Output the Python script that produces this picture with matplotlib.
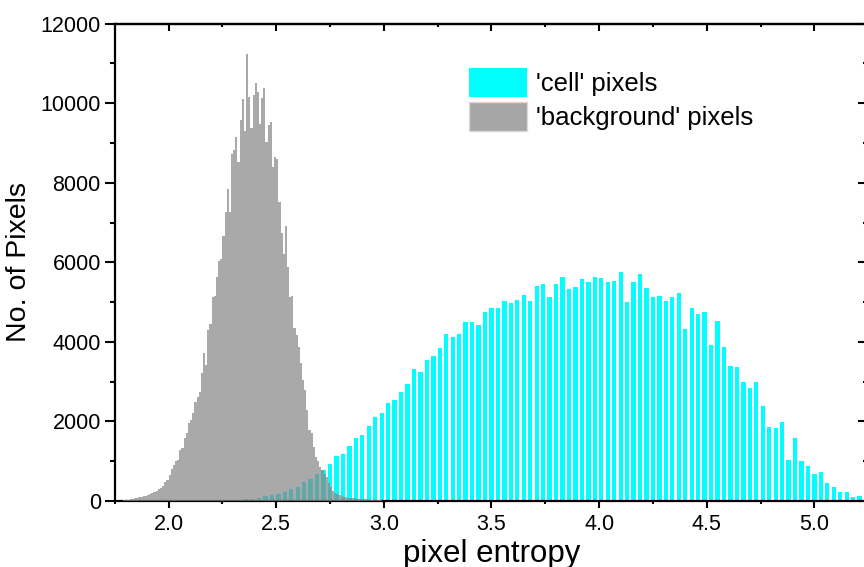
import numpy as np
import matplotlib
matplotlib.use("Agg")
import matplotlib.pyplot as plt
from matplotlib.patches import Patch
from matplotlib.ticker import MultipleLocator

plt.rcParams['font.family'] = ['Liberation Sans', 'DejaVu Sans']

# histogram counts
cell_counts = [
    5, 8, 12, 18, 28, 43, 59, 84, 126, 151,
    168, 218, 302, 360, 485, 545, 675, 779, 940, 1120,
    1180, 1383, 1592, 1659, 1877, 2104, 2220, 2456, 2531, 2732,
    2941, 3311, 3235, 3552, 3645, 3846, 4206, 4115, 4191, 4500,
    4500, 4432, 4744, 4844, 4844, 5028, 4978, 5045, 5179, 5028,
    5405, 5455, 5129, 5455, 5623, 5330, 5372, 5589, 5506, 5640,
    5598, 5497, 5522, 5749, 5003, 5497, 5715, 5346, 5129, 5145,
    5020, 5129, 5237, 4324, 4844, 4693, 4744, 3914, 4517, 3864,
    3394, 3369, 2992, 2833, 2984, 2388, 1860, 1827, 1978, 1023,
    1592, 998, 872, 679, 729, 444, 352, 235, 218, 100,
    134, 80,
]

background_counts = [
    10, 15, 25, 35, 45, 55, 70, 85, 95, 108,
    120, 134, 150, 165, 193, 230, 260, 300, 330, 370,
    486, 528, 654, 813, 897, 1014, 1031, 1282, 1332, 1576,
    1702, 1953, 2036, 2204, 2497, 2622, 2748, 3225, 3713, 3419,
    4299, 4450, 5136, 5161, 5639, 6034, 6084, 6662, 7265, 7840,
    7260, 8724, 8820, 9140, 8515, 9565, 10099, 9302, 11237, 10157,
    9369, 10207, 10501, 10290, 9485, 10132, 10391, 9033, 9453, 9521,
    8404, 8640, 8598, 7525, 6730, 6210, 6914, 5891, 5121, 5150,
    4342, 4173, 3879, 3462, 3042, 2790, 2288, 1785, 1717, 1365,
    1114, 1006, 862, 779, 679, 611, 444, 344, 260, 209,
    168, 140, 126, 110, 93, 85, 78, 70, 65, 60,
    55, 48, 43, 40, 36, 32, 28, 25, 22, 18,
    15, 12, 10, 8, 6, 5, 4,
]

cell_start, cell_step = 2.21, 0.03
bg_start, bg_step = 1.785, 0.01
cell_bins = cell_start + cell_step * np.arange(len(cell_counts))
bg_bins = bg_start + bg_step * np.arange(len(background_counts))

legend_labels = ["'cell' pixels", "'background' pixels"]

fig = plt.figure(figsize=(8.64, 5.67), dpi=100)
ax = fig.add_axes([0.1328, 0.1164, 0.8721, 0.8420])

ax.bar(cell_bins, cell_counts, width=0.02, color='#00ffff',
       edgecolor='none', zorder=2)
ax.bar(bg_bins, background_counts, width=bg_step, color='#888888',
       alpha=0.72, edgecolor='none', zorder=3)

ax.set_xlim(1.75, 5.25)
ax.set_ylim(0, 12000)

ax.xaxis.set_major_locator(MultipleLocator(0.5))
ax.xaxis.set_minor_locator(MultipleLocator(0.25))
ax.yaxis.set_major_locator(MultipleLocator(2000))
ax.yaxis.set_minor_locator(MultipleLocator(1000))
ax.xaxis.set_major_formatter(plt.FormatStrFormatter('%.1f'))

for s in ax.spines.values():
    s.set_linewidth(1.6)

ax.tick_params(axis='y', which='major', direction='out', length=7, width=1.5,
               labelsize=15.5, pad=3)
ax.tick_params(axis='y', which='minor', direction='out', length=3.5, width=1.5)
ax.tick_params(axis='x', which='major', direction='out', length=5, width=1.5,
               labelsize=15.5, pad=4)
ax.tick_params(axis='x', which='minor', direction='out', length=2.5, width=1.5)

# mirrored ticks on top and right, pointing inwards
top = ax.secondary_xaxis('top')
top.xaxis.set_major_locator(MultipleLocator(0.5))
top.xaxis.set_minor_locator(MultipleLocator(0.25))
top.tick_params(which='major', direction='in', length=5, width=1.5, labeltop=False)
top.tick_params(which='minor', direction='in', length=2.5, width=1.5)
top.spines['top'].set_linewidth(1.6)

right = ax.secondary_yaxis('right')
right.yaxis.set_major_locator(MultipleLocator(2000))
right.yaxis.set_minor_locator(MultipleLocator(1000))
right.tick_params(which='major', direction='in', length=7, width=1.5, labelright=False)
right.tick_params(which='minor', direction='in', length=3.5, width=1.5)

ax.set_xlabel('pixel entropy', fontsize=22.5, labelpad=3)
ax.set_ylabel('No. of Pixels', fontsize=20.5, labelpad=6)

handles = [Patch(facecolor='#00ffff', edgecolor='none'),
           Patch(facecolor='#a6a6a6', edgecolor='#d8d8d8')]
ax.legend(handles, legend_labels, loc='upper left',
          bbox_to_anchor=(469 / 864, 1 - 68 / 567), bbox_transform=fig.transFigure,
          frameon=False, fontsize=18.5, borderpad=0, borderaxespad=0,
          handlelength=2.25, handleheight=1.35, handletextpad=0.36,
          labelspacing=0.2)

fig.savefig('out.png', dpi=100)
